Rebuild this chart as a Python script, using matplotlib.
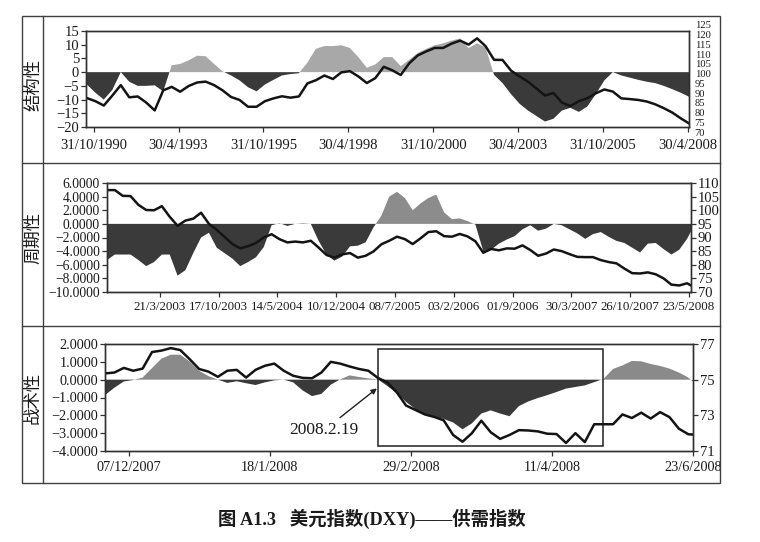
import numpy as np
import pandas as pd
import matplotlib
matplotlib.use('Agg')
import matplotlib.pyplot as plt
from matplotlib.patches import Rectangle
from matplotlib.lines import Line2D

# ---------------- data ----------------
# Panel 1: structural (quarterly samples from 1990.625)
struct_start = 1990.625
struct_step = 0.25
struct_supply = [-4.5, -7.5, -10, -6.5, 0, -3.5, -5, -5, -4.8, -7,
                 2.5, 3, 4.3, 6, 5.8, 3, 0.3, -1.2, -3, -5.5,
                 -7, -4.5, -2.8, -1.2, -0.7, -0.4, 3.5, 8.5, 9.5, 9.5,
                 9.8, 8.8, 5.5, 1.6, 2.8, 5.5, 5.5, 2.2, 4.5, 7,
                 8.5, 9.8, 10.5, 11.5, 12.3, 8.8, 10.5, 9, -1, -4,
                 -8, -11.5, -14, -16, -18, -17, -14, -13, -14.5, -12.5,
                 -8, -3, 0, -1.2, -2, -2.8, -3.5, -4, -5, -6.2, -7.5, -9]
struct_dxy = [86.6, 84.8, 82.3, 88, 94, 87, 87.5, 84, 79.5, 91,
              93, 90.2, 93.5, 95.5, 96, 94, 91, 87.2, 85.5, 81.6,
              81.6, 84.8, 86.4, 87.6, 86.8, 87.5, 95, 96.8, 99.5, 97.5,
              101.3, 102, 99, 95.2, 98, 104.5, 102.5, 99.8, 106.5, 111,
              113.3, 115.3, 115.3, 117.8, 119.5, 117.2, 120.8, 116.3, 108.5, 108.4,
              102.3, 99, 96, 92, 88, 89.5, 84, 82, 84.8, 86.5,
              89.3, 91.5, 90.3, 86.4, 86, 85.5, 84.6, 83, 80.8, 78.3, 75, 72]
struct_tick_labels = ['31/10/1990', '30/4/1993', '31/10/1995', '30/4/1998',
                      '31/10/2000', '30/4/2003', '31/10/2005', '30/4/2008']

# Panel 2: cyclical (4-week samples from 13/9/2002)
cyc_origin = '2002-09-13'
cyc_supply = [-5.3, -4.5, -4.5, -4.5, -5.3, -6.2, -5.6, -4.5, -4.5, -7.6,
              -6.8, -4.3, -2, -1.3, -3.5, -4.3, -5.1, -6.2, -5.6, -4.9,
              -3.4, -0.2, 0.1, -0.3, 0, 0.1, 0, -2.5, -4.5, -5.4,
              -4.8, -3.3, -3.2, -2.7, -0.5, 1.2, 4, 4.7, 3.8, 2,
              3, 3.8, 4.3, 1.7, 0.7, 0.8, 0.4, -0.1, -4, -3.8,
              -2.9, -2.3, -1.8, -0.8, -0.2, -1, -0.7, 0, -0.2, -0.8,
              -1.4, -2.2, -1.5, -1.2, -1.9, -2.5, -2.8, -3.5, -4.2, -2.9,
              -2.8, -3.7, -4.5, -3.8, -2.2, -1.1]
cyc_dxy = [107.4, 107.4, 105.3, 105.2, 102, 100.1, 100, 101.5, 97.6, 94.3,
           96.2, 96.9, 99.1, 95, 92.8, 90.2, 87.6, 86, 86.8, 88,
           90, 91.2, 89.4, 88.2, 88.5, 88.2, 88.8, 86.3, 83.6, 82.6,
           83.8, 84.3, 82.6, 83.3, 84.9, 87.5, 88.8, 90.3, 89.4, 87.6,
           89.7, 92, 92.3, 90.5, 90.3, 91.3, 90.4, 88.6, 84.4, 85.8,
           85.3, 86, 85.9, 87.1, 85.4, 83.3, 84.1, 85.6, 85, 83.9,
           82.9, 82.8, 82.8, 81.7, 81, 80.5, 78.6, 76.9, 76.8, 77.2,
           76.5, 75, 72.7, 72.4, 73.2, 72.4]
cyc_tick_labels = ['21/3/2003', '17/10/2003', '14/5/2004', '10/12/2004', '08/7/2005',
                   '03/2/2006', '01/9/2006', '30/3/2007', '26/10/2007', '23/5/2008']

# Panel 3: tactical (trading-day samples)
tac_supply = [-0.87, -0.45, -0.1, -0.02, 0.12, 0.65, 1.18, 1.4, 1.4, 1.02,
              0.5, 0.2, 0.0, -0.18, -0.09, -0.2, -0.3, -0.15, -0.04, 0.0,
              -0.15, -0.6, -0.92, -0.8, -0.28, 0.02, 0.24, 0.15, 0.07, 0.02,
              -0.35, -0.75, -1.25, -1.65, -1.95, -2.1, -2.2, -2.4, -2.78, -2.45,
              -1.9, -1.72, -1.9, -2.05, -1.48, -1.22, -1.03, -0.87, -0.69, -0.5,
              -0.41, -0.32, -0.14, 0.05, 0.6, 0.8, 1.05, 1.03, 0.88, 0.77,
              0.62, 0.4, 0.12, -0.1]
tac_dxy = [75.35, 75.4, 75.66, 75.5, 75.62, 76.55, 76.63, 76.77, 76.66, 76.15,
           75.6, 75.45, 75.16, 75.5, 75.55, 75.12, 75.55, 75.78, 75.9, 75.5,
           75.22, 75.1, 75.08, 75.4, 76.0, 75.9, 75.74, 75.6, 75.5, 75.1,
           74.85, 74.3, 73.55, 73.3, 73.05, 72.91, 72.72, 71.9, 71.52, 72.0,
           72.7, 72.05, 71.68, 71.9, 72.17, 72.15, 72.1, 71.97, 71.95, 71.45,
           72.0, 71.5, 72.5, 72.5, 72.5, 73.05, 72.85, 73.15, 72.82, 73.18,
           72.9, 72.25, 71.94, 71.92]
tac_tick_labels = ['07/12/2007', '18/1/2008', '29/2/2008', '11/4/2008', '23/6/2008']
tac_tick_pos = [5, 35, 65, 95, 125]
tac_box = (58.1, 105.8, -3.73, 1.72)   # x0, x1, y0, y1 (highlighted window)
tac_note = '2008.2.19'
tac_note_xy = (57.8, -0.49)
tac_note_text_xy = (46.6, -2.83)

panel_names = ['结构性', '周期性', '战术性']
caption = '图 A1.3   美元指数(DXY)——供需指数'

# ---------------- helpers ----------------
def decimal_year(s):
    d = pd.to_datetime(s, dayfirst=True)
    start = pd.Timestamp(year=d.year, month=1, day=1)
    end = pd.Timestamp(year=d.year + 1, month=1, day=1)
    return d.year + (d - start) / (end - start)

W, H = 760, 542
fig = plt.figure(figsize=(W / 100, H / 100), dpi=100)
fig.patch.set_facecolor('white')

SERIF = ['Liberation Serif', 'DejaVu Serif']
CJK = ['Noto Sans CJK SC', 'DejaVu Sans']
NEG = '#3a3a3a'
LINE = '#141414'
SPINE = '#303030'

def px_axes(l, r, t, b):
    return fig.add_axes([l / W, 1 - b / H, (r - l) / W, (b - t) / H])

def style(ax, fs, xpad=1.5):
    for s in ax.spines.values():
        s.set_color(SPINE)
        s.set_linewidth(1.0)
    ax.tick_params(direction='out', length=3.5, width=0.9, colors=SPINE,
                   labelsize=fs, pad=1.5, labelcolor='#1a1a1a')
    ax.tick_params(axis='x', pad=xpad)
    for lab in ax.get_xticklabels() + ax.get_yticklabels():
        lab.set_family(SERIF)

def draw_fill(ax, x, v, pos_color):
    v = np.asarray(v, float)
    ax.fill_between(x, 0, v, where=v >= 0, interpolate=True, color=pos_color, lw=0)
    ax.fill_between(x, 0, v, where=v <= 0, interpolate=True, color=NEG, lw=0)

# ---------------- panel 1 ----------------
ax1 = px_axes(86, 689, 31, 127)
x1 = struct_start + struct_step * np.arange(len(struct_supply))
draw_fill(ax1, x1, struct_supply, '#a8a8a8')
ax1.set_xlim(1990.6, 2008.37)
ax1.set_ylim(-20, 15)
ax1.set_yticks(np.arange(-20, 16, 5))
ax1.set_xticks([decimal_year(s) for s in struct_tick_labels])
ax1.set_xticklabels(struct_tick_labels)
style(ax1, 10.5, xpad=5)
ax1b = ax1.twinx()
ax1b.plot(x1, struct_dxy, color=LINE, lw=1.8)
ax1b.set_ylim(70, 125)
ax1b.set_yticks([])
style(ax1b, 9)
# right-hand scale labels, printed squeezed over a slightly taller span as in the source
ax1c = px_axes(86, 689, 25, 132)
ax1c.set_ylim(70, 125)
ax1c.set_yticks(np.arange(70, 126, 5))
ax1c.set_xticks([])
ax1c.patch.set_visible(False)
for s in ax1c.spines.values():
    s.set_visible(False)
ax1c.yaxis.tick_right()
ax1c.tick_params(axis='y', length=0, pad=4, labelsize=7.6, labelcolor='#1a1a1a')
for lab in ax1c.get_yticklabels():
    lab.set_family(SERIF)

# ---------------- panel 2 ----------------
ax2 = px_axes(107, 691, 183, 292)
x2 = np.r_[np.arange(0, 297, 4), 298]
draw_fill(ax2, x2, cyc_supply, '#8c8c8c')
origin = pd.Timestamp(cyc_origin)
ax2.set_xlim(0, 298)
ax2.set_ylim(-10, 6)
ax2.set_yticks(np.arange(-10, 7, 2))
ax2.set_yticklabels([f'{v:.4f}'.replace('-', '\u2212') for v in np.arange(-10, 7, 2)])
ax2.set_xticks([(pd.to_datetime(s, dayfirst=True) - origin).days / 7 for s in cyc_tick_labels])
ax2.set_xticklabels(cyc_tick_labels)
style(ax2, 9.3, xpad=3)
ax2.tick_params(axis='y', labelsize=9.8)
ax2b = ax2.twinx()
ax2b.plot(x2, cyc_dxy, color=LINE, lw=1.8)
ax2b.set_ylim(70, 110)
ax2b.set_yticks(np.arange(70, 111, 5))
style(ax2b, 10.5)

# ---------------- panel 3 ----------------
ax3 = px_axes(105, 693, 344, 451)
x3 = np.r_[np.arange(0, 125, 2), 125]
draw_fill(ax3, x3, tac_supply, '#8a8a8a')
ax3.set_xlim(0, 125)
ax3.set_ylim(-4, 2)
ax3.set_yticks(np.arange(-4, 3, 1))
ax3.set_yticklabels([f'{v:.4f}'.replace('-', '\u2212') for v in np.arange(-4, 3, 1)])
ax3.set_xticks(tac_tick_pos)
ax3.set_xticklabels(tac_tick_labels)
style(ax3, 10.3, xpad=4)
bx0, bx1, by0, by1 = tac_box
ax3.add_patch(Rectangle((bx0, by0), bx1 - bx0, by1 - by0, fill=False,
                        ec='#202020', lw=1.1, zorder=5))
ax3.annotate(tac_note, xy=tac_note_xy, xytext=tac_note_text_xy,
             ha='center', va='center', fontsize=12.5, family=SERIF, color='#1a1a1a',
             arrowprops=dict(arrowstyle='-|>', color='#202020', lw=1.0,
                             mutation_scale=8, shrinkA=2, shrinkB=0), zorder=6)
ax3b = ax3.twinx()
ax3b.plot(x3, tac_dxy, color=LINE, lw=1.8)
ax3b.set_ylim(71, 77)
ax3b.set_yticks([71, 73, 75, 77])
style(ax3b, 10.5)

# ---------------- frame & labels ----------------
fig.add_artist(Rectangle((22 / W, 1 - 483 / H), (720 - 22) / W, (483 - 16) / H,
                         transform=fig.transFigure, fill=False, ec='#404040', lw=1.0))
fig.add_artist(Line2D([43 / W, 43 / W], [1 - 16 / H, 1 - 483 / H],
                      transform=fig.transFigure, color='#404040', lw=1.0))
for yy in (163, 326):
    fig.add_artist(Line2D([22 / W, 720 / W], [1 - yy / H, 1 - yy / H],
                          transform=fig.transFigure, color='#404040', lw=1.0))
for name, yc in zip(panel_names, (85, 238, 398)):
    fig.text(33 / W, 1 - yc / H, name, rotation=90, ha='center', va='center',
             fontsize=12.5, family=CJK, color='#1a1a1a')

fig.text(372 / W, 1 - 519 / H, caption, ha='center', va='center', fontsize=13.2,
         family=['Liberation Serif', 'Noto Sans CJK SC'], fontweight='bold', color='#1a1a1a')

fig.savefig('out.png', dpi=100, facecolor='white')
